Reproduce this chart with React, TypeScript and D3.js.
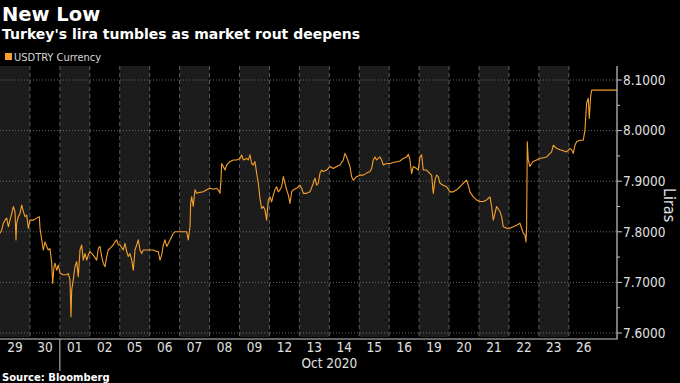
import React from "react";
import * as d3 from "d3";

const dayLabels = ["29","30","01","02","05","06","07","08","09","12","13","14","15","16","19","20","21","22","23","26"];
const monthLabel = "Oct 2020";
const yTicks = [7.6, 7.7, 7.8, 7.9, 8.0, 8.1];
const yMinorTicks = [7.65, 7.75, 7.85, 7.95, 8.05];
const seriesName = "USDTRY Currency";

// time in trading days since start of Sep 29, rate in TRY per USD
const times = [
  0, 0.056, 0.111, 0.167, 0.223, 0.278, 0.334, 0.39, 0.445, 0.501, 0.534, 0.557, 0.612, 0.668, 0.724, 0.779, 0.835, 0.891, 0.946,
  1.002, 1.112, 1.226, 1.313, 1.336, 1.393, 1.446, 1.503, 1.56, 1.613, 1.67, 1.727, 1.76, 1.804, 1.837, 1.894, 1.947,
  2.004, 2.114, 2.228, 2.281, 2.338, 2.371, 2.395, 2.448, 2.505, 2.562, 2.615, 2.672, 2.729, 2.782, 2.839, 2.896, 2.949,
  3.006, 3.116, 3.23, 3.283, 3.34, 3.397, 3.45, 3.507, 3.564, 3.617, 3.674, 3.784, 3.841, 3.898, 3.951,
  4.008, 4.118, 4.175, 4.232, 4.285, 4.342, 4.399, 4.452, 4.509, 4.566, 4.619, 4.676, 4.733, 4.786, 4.9,
  5.01, 5.12, 5.234, 5.287, 5.344, 5.401, 5.454, 5.511, 5.568, 5.621, 5.678, 5.735, 5.788, 5.845, 5.902,
  6.012, 6.122, 6.236, 6.289, 6.346, 6.369, 6.403, 6.456, 6.513, 6.57, 6.68, 6.791, 6.903,
  7.014, 7.125, 7.237, 7.292, 7.348, 7.381, 7.404, 7.459, 7.515, 7.571, 7.682, 7.793, 7.905,
  8.016, 8.072, 8.127, 8.239, 8.294, 8.35, 8.406, 8.461, 8.517, 8.573, 8.628, 8.684, 8.74, 8.795, 8.851, 8.907, 8.962,
  9.018, 9.074, 9.129, 9.185, 9.241, 9.296, 9.352, 9.408, 9.463, 9.519, 9.575, 9.63, 9.686, 9.742, 9.797, 9.909,
  10.02, 10.076, 10.131, 10.243, 10.354, 10.465, 10.521, 10.577, 10.632, 10.688, 10.744, 10.799, 10.911,
  11.022, 11.133, 11.245, 11.356, 11.467, 11.523, 11.579, 11.634, 11.69, 11.746, 11.801, 11.913,
  12.024, 12.135, 12.247, 12.358, 12.414, 12.469, 12.525, 12.581, 12.636, 12.692, 12.748, 12.803, 12.915,
  13.026, 13.137, 13.36, 13.471, 13.583, 13.638, 13.694, 13.75, 13.805, 13.917, 13.972,
  14.028, 14.084, 14.139, 14.251, 14.362, 14.418, 14.473, 14.529, 14.585, 14.64, 14.696, 14.807, 14.919,
  15.03, 15.141, 15.253, 15.364, 15.475, 15.587, 15.642, 15.698, 15.809, 15.921,
  16.032, 16.143, 16.255, 16.366, 16.422, 16.477, 16.589, 16.7, 16.756, 16.811, 16.923,
  17.034, 17.145, 17.257, 17.368, 17.424, 17.479, 17.535, 17.568, 17.591, 17.613, 17.646, 17.702, 17.758, 17.813,
  18.036, 18.259, 18.426, 18.481, 18.593, 18.704, 18.815, 18.927,
  19.038, 19.094, 19.149, 19.205, 19.261, 19.372, 19.483, 19.539, 19.595, 19.65, 19.683, 19.729, 19.762, 19.817,
  20.04, 20.61,
];
const rates = [
  7.797, 7.803, 7.817, 7.823, 7.827, 7.81, 7.823, 7.836, 7.85, 7.84, 7.784, 7.817, 7.83, 7.836, 7.853, 7.84, 7.83, 7.833, 7.807,
  7.823, 7.823, 7.827, 7.83, 7.807, 7.784, 7.764, 7.78, 7.771, 7.764, 7.767, 7.738, 7.698, 7.731, 7.738, 7.724, 7.734,
  7.718, 7.715, 7.715, 7.718, 7.705, 7.632, 7.685, 7.705, 7.731, 7.741, 7.711, 7.764, 7.774, 7.744, 7.757, 7.744, 7.754,
  7.761, 7.754, 7.744, 7.767, 7.771, 7.751, 7.738, 7.731, 7.751, 7.764, 7.767, 7.774, 7.78, 7.784, 7.774,
  7.774, 7.764, 7.777, 7.761, 7.751, 7.757, 7.744, 7.724, 7.764, 7.774, 7.784, 7.764, 7.757, 7.764, 7.764,
  7.764, 7.764, 7.761, 7.761, 7.744, 7.754, 7.774, 7.784, 7.771, 7.777, 7.784, 7.79, 7.797, 7.8, 7.8,
  7.8, 7.8, 7.8, 7.784, 7.81, 7.856, 7.869, 7.85, 7.883, 7.876, 7.878, 7.879, 7.883,
  7.886, 7.884, 7.886, 7.883, 7.876, 7.902, 7.935, 7.929, 7.922, 7.932, 7.939, 7.942, 7.942,
  7.945, 7.952, 7.942, 7.945, 7.942, 7.952, 7.935, 7.932, 7.939, 7.916, 7.896, 7.866, 7.846, 7.85, 7.843, 7.823, 7.863,
  7.869, 7.859, 7.873, 7.883, 7.889, 7.879, 7.883, 7.889, 7.909, 7.896, 7.883, 7.873, 7.856, 7.879, 7.883, 7.886,
  7.892, 7.886, 7.876, 7.876, 7.879, 7.896, 7.906, 7.892, 7.896, 7.916, 7.922, 7.919, 7.922,
  7.929, 7.925, 7.929, 7.932, 7.942, 7.955, 7.948, 7.939, 7.929, 7.909, 7.902, 7.909,
  7.912, 7.912, 7.916, 7.919, 7.925, 7.942, 7.948, 7.942, 7.945, 7.948, 7.942, 7.932, 7.935,
  7.935, 7.937, 7.94, 7.945, 7.948, 7.953, 7.942, 7.915, 7.929, 7.925, 7.922,
  7.948, 7.952, 7.922, 7.922, 7.915, 7.912, 7.876, 7.902, 7.912, 7.909, 7.896, 7.892, 7.889,
  7.879, 7.879, 7.883, 7.889, 7.896, 7.902, 7.892, 7.879, 7.869, 7.863,
  7.86, 7.86, 7.863, 7.869, 7.85, 7.823, 7.85, 7.84, 7.83, 7.81, 7.807,
  7.807, 7.81, 7.813, 7.817, 7.807, 7.797, 7.794, 7.78, 7.81, 7.978, 7.942, 7.929, 7.935, 7.939,
  7.945, 7.948, 7.958, 7.971, 7.965, 7.962, 7.96, 7.958,
  7.965, 7.962, 7.955, 7.971, 7.978, 7.981, 7.981, 8.001, 8.054, 8.064, 8.024, 8.067, 8.08, 8.08,
  8.08, 8.08,
];

const W = 680;
const H = 383;
const plotRight = 617;
const plotTop = 66;
const axisY = 339;
const bandBottom = 337;

const narrow = "'Liberation Sans Narrow', 'Arial Narrow', 'DejaVu Sans Condensed', sans-serif";
const bold = "'DejaVu Sans', sans-serif";

export default function App() {
  const x = d3.scaleLinear().domain([0, 20.61]).range([0, plotRight]);
  const y = d3.scaleLinear().domain([7.6, 8.1]).range([333, 80]);
  const pts: [number, number][] = times.map((t, i) => [t, rates[i]]);
  const line = d3
    .line<[number, number]>()
    .x((d) => x(d[0]))
    .y((d) => y(d[1]));

  const orange = "#f6a02c";

  return (
    <svg
      width={W}
      height={H}
      style={{ position: "absolute", left: 0, top: 0, background: "#000", display: "block" }}
    >
      <rect x={0} y={0} width={W} height={H} fill="#000" />
      <text x={2} y={21} fill="#fff" fontFamily={bold} fontWeight="bold" fontSize={19.5}>
        New Low
      </text>
      <text x={2} y={39} fill="#fff" fontFamily={bold} fontWeight="bold" fontSize={14}>
        Turkey's lira tumbles as market rout deepens
      </text>
      <rect x={5} y={53} width={7} height={7} fill={orange} />
      <text x={14} y={61} fill="#d8d8d8" fontFamily={narrow} fontSize={11}>
        {seriesName}
      </text>

      {dayLabels.map((lab, i) =>
        i % 2 === 0 ? (
          <rect
            key={"b" + i}
            x={x(i)}
            y={plotTop}
            width={x(i + 1) - x(i)}
            height={bandBottom - plotTop}
            fill="#1c1c1c"
          />
        ) : null
      )}
      {dayLabels.slice(1).map((lab, i) => (
        <line
          key={"d" + i}
          x1={x(i + 1)}
          x2={x(i + 1)}
          y1={plotTop}
          y2={bandBottom}
          stroke="#5a5a5a"
          strokeWidth={1}
          strokeDasharray="4,3"
        />
      ))}
      {yTicks.map((v) => (
        <line
          key={"g" + v}
          x1={0}
          x2={plotRight}
          y1={y(v)}
          y2={y(v)}
          stroke="#6a6a6a"
          strokeWidth={1}
          strokeDasharray="1,2"
        />
      ))}

      <path d={line(pts) || ""} fill="none" stroke={orange} strokeWidth={1.1} strokeLinejoin="round" />

      <line x1={0} x2={plotRight + 0.5} y1={axisY} y2={axisY} stroke="#c8c8c8" strokeWidth={1.2} />
      <line x1={plotRight} x2={plotRight} y1={plotTop} y2={axisY} stroke="#c8c8c8" strokeWidth={1.2} />
      {yTicks.map((v) => (
        <g key={"t" + v}>
          <line x1={plotRight} x2={plotRight + 5} y1={y(v)} y2={y(v)} stroke="#c8c8c8" strokeWidth={1} />
          <text
            x={plotRight + 6}
            y={y(v)}
            dy="0.35em"
            fill="#e0e0e0"
            fontFamily={narrow}
            fontSize={13.5}
          >
            {v.toFixed(4)}
          </text>
        </g>
      ))}
      {yMinorTicks.map((v) => (
        <line key={"m" + v} x1={plotRight} x2={plotRight + 3} y1={y(v)} y2={y(v)} stroke="#c8c8c8" strokeWidth={1} />
      ))}
      <text
        transform={`translate(664, 205) rotate(90)`}
        textAnchor="middle"
        fill="#e0e0e0"
        fontFamily={narrow}
        fontSize={16}
      >
        Liras
      </text>

      {dayLabels.map((lab, i) => (
        <text
          key={"l" + i}
          x={x(i + 0.5)}
          y={352}
          textAnchor="middle"
          fill="#e0e0e0"
          fontFamily={narrow}
          fontSize={13.5}
        >
          {lab}
        </text>
      ))}
      <line x1={x(2)} x2={x(2)} y1={axisY} y2={371} stroke="#c8c8c8" strokeWidth={1} />
      <text x={x(11)} y={368} textAnchor="middle" fill="#e0e0e0" fontFamily={narrow} fontSize={13.5}>
        {monthLabel}
      </text>
      <text x={2} y={381} fill="#fff" fontFamily={bold} fontWeight="bold" fontSize={10}>
        Source: Bloomberg
      </text>
    </svg>
  );
}
